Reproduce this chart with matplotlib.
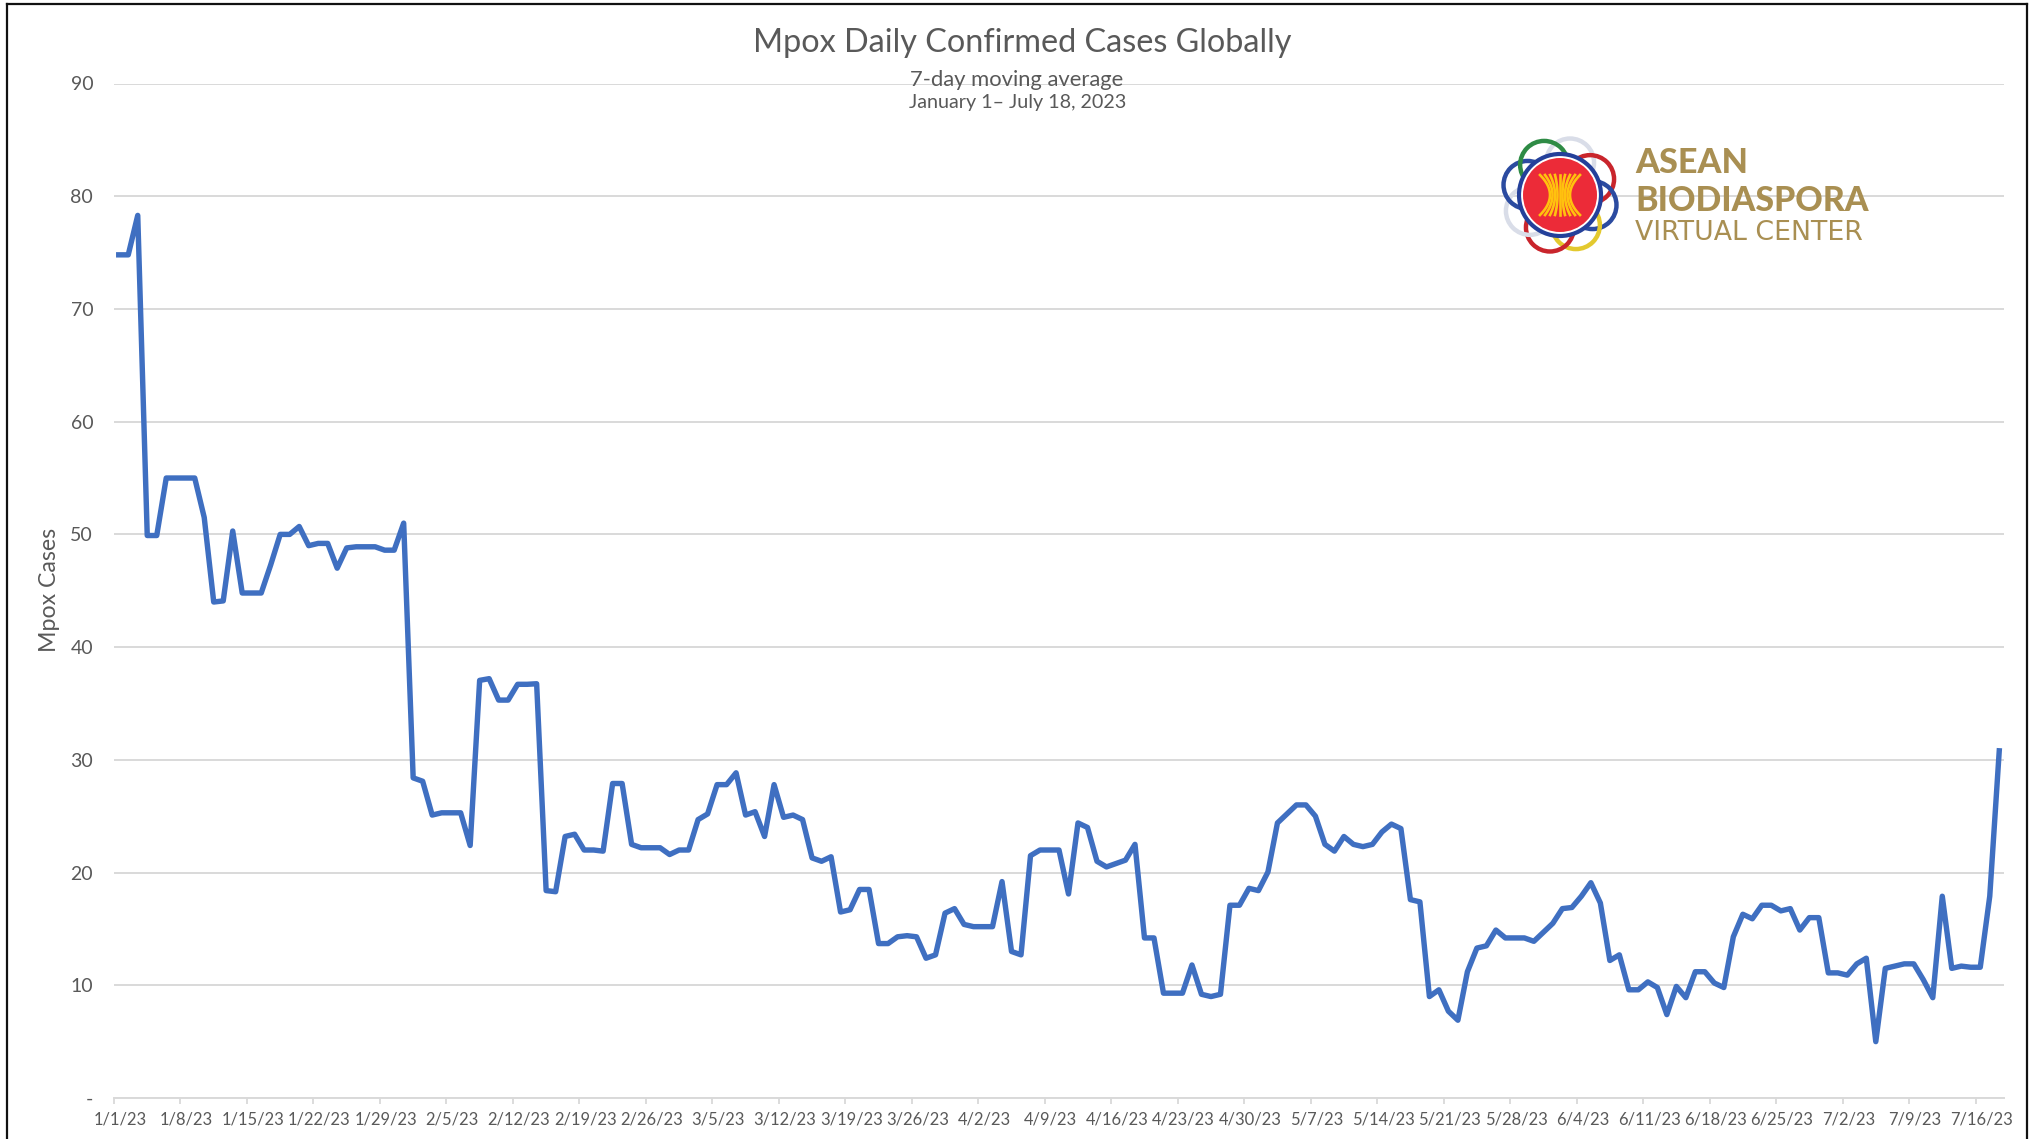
import numpy as np
import pandas as pd
import matplotlib
matplotlib.use("Agg")
import matplotlib.pyplot as plt
from matplotlib.lines import Line2D
from matplotlib.patches import Circle

# 7-day moving average, one value per day from 1/1/23 to 7/18/23
cases = [
    74.8, 74.8, 78.3, 49.9, 49.9, 55.0, 55.0, 55.0, 55.0, 51.5,
    44.0, 44.1, 50.3, 44.8, 44.8, 44.8, 47.3, 50.0, 50.0, 50.7,
    49.0, 49.2, 49.2, 47.0, 48.8, 48.9, 48.9, 48.9, 48.6, 48.6,
    51.0, 28.4, 28.1, 25.1, 25.3, 25.3, 25.3, 22.4, 37.05, 37.2,
    35.3, 35.3, 36.7, 36.7, 36.75, 18.4, 18.3, 23.2, 23.4, 22.0,
    22.0, 21.9, 27.9, 27.9, 22.5, 22.2, 22.2, 22.2, 21.6, 22.0,
    22.0, 24.7, 25.2, 27.8, 27.8, 28.85, 25.1, 25.4, 23.2, 27.8,
    24.9, 25.1, 24.7, 21.3, 21.0, 21.4, 16.5, 16.7, 18.5, 18.5,
    13.7, 13.7, 14.3, 14.4, 14.3, 12.4, 12.7, 16.4, 16.8, 15.4,
    15.2, 15.2, 15.2, 19.2, 13.0, 12.7, 21.5, 22.0, 22.0, 22.0,
    18.1, 24.4, 24.0, 21.0, 20.5, 20.8, 21.1, 22.5, 14.2, 14.2,
    9.3, 9.3, 9.3, 11.8, 9.2, 9.0, 9.2, 17.1, 17.1, 18.6,
    18.4, 20.05, 24.4, 25.2, 26.0, 26.0, 25.0, 22.5, 21.9, 23.2,
    22.5, 22.3, 22.5, 23.6, 24.3, 23.9, 17.6, 17.4, 9.0, 9.6,
    7.7, 6.9, 11.2, 13.3, 13.5, 14.9, 14.2, 14.2, 14.2, 13.9,
    14.7, 15.5, 16.8, 16.9, 17.9, 19.1, 17.3, 12.2, 12.7, 9.6,
    9.6, 10.3, 9.8, 7.4, 9.9, 8.9, 11.2, 11.2, 10.2, 9.8,
    14.3, 16.3, 15.9, 17.1, 17.1, 16.6, 16.8, 14.9, 16.0, 16.0,
    11.1, 11.1, 10.9, 11.9, 12.4, 5.0, 11.5, 11.7, 11.9, 11.9,
    10.5, 8.9, 17.9, 11.5, 11.7, 11.6, 11.6, 17.9, 30.8,
]
dates = pd.date_range("2023-01-01", periods=len(cases))

x_labels = [
    "1/1/23", "1/8/23", "1/15/23", "1/22/23", "1/29/23", "2/5/23", "2/12/23",
    "2/19/23", "2/26/23", "3/5/23", "3/12/23", "3/19/23", "3/26/23", "4/2/23",
    "4/9/23", "4/16/23", "4/23/23", "4/30/23", "5/7/23", "5/14/23", "5/21/23",
    "5/28/23", "6/4/23", "6/11/23", "6/18/23", "6/25/23", "7/2/23", "7/9/23",
    "7/16/23",
]
y_ticks = [0, 10, 20, 30, 40, 50, 60, 70, 80, 90]
y_labels = ["-", "10", "20", "30", "40", "50", "60", "70", "80", "90"]

W, H = 2034, 1139
GREY = "#595959"
GOLD = "#A98F52"
plt.rcParams["font.family"] = ["Lato", "DejaVu Sans"]

fig = plt.figure(figsize=(W / 100, H / 100), dpi=100, facecolor="white")
ax = fig.add_axes([114 / W, 1 - 1098 / H, (2004 - 114) / W, (1098 - 83.5) / H])

ax.plot(dates, cases, color="#3F6FC1", lw=3.9, solid_joinstyle="round", zorder=3)

# category style axis: a tick between the days, the label on the day
week_days = dates[::7]
half_day = pd.Timedelta(hours=12)
ax.set_xlim(dates[0] - half_day, dates[-1] + half_day)
ax.set_ylim(0, 90)
ax.set_xticks(week_days - half_day)
ax.set_xticklabels([])
ax.set_xticks(week_days + pd.Timedelta(hours=3), labels=x_labels, minor=True)
ax.tick_params(axis="x", which="major", length=4, width=1.3, color="#D9D9D9")
ax.tick_params(axis="x", which="minor", length=0, pad=9.5, labelsize=11.9, labelcolor=GREY)
ax.set_yticks(y_ticks, labels=y_labels)
ax.tick_params(axis="y", length=0, pad=15, labelsize=14, labelcolor=GREY)

ax.grid(axis="y", color="#D9D9D9", lw=1.4)
ax.set_axisbelow(True)
for side in ["top", "right", "left"]:
    ax.spines[side].set_visible(False)
ax.spines["bottom"].set_color("#D9D9D9")
ax.spines["bottom"].set_linewidth(1.4)

fig.text(50 / W, 1 - 590 / H, "Mpox Cases", rotation=90, ha="center", va="center",
         fontsize=16.7, color=GREY)
fig.text(1022 / W, 1 - 43 / H, "Mpox Daily Confirmed Cases Globally", ha="center",
         va="center", fontsize=23.3, color=GREY)
fig.text(1017 / W, 1 - 80.5 / H, "7-day moving average", ha="center", va="center",
         fontsize=15.8, color=GREY)
fig.text(1018 / W, 1 - 102.5 / H, "January 1– July 18, 2023", ha="center", va="center",
         fontsize=14.2, color=GREY)

# logo, drawn in pixels around its centre
logo = fig.add_axes([(1560 - 64) / W, 1 - (195 + 64) / H, 128 / W, 128 / H])
logo.set_xlim(-64, 64)
logo.set_ylim(-64, 64)
logo.axis("off")
loop_colors = ["#D9DDE8", "#C9252C", "#2B4BA0", "#E3C92E", "#C9252C",
               "#D9DDE8", "#2B4BA0", "#2E8B45"]
for i, c in enumerate(loop_colors):
    a = np.pi / 2 - i * 2 * np.pi / len(loop_colors) - 0.3
    logo.add_patch(Circle((34 * np.cos(a), 34 * np.sin(a)), 24, fill=False, ec=c, lw=3.2))
logo.add_patch(Circle((0, 0), 41, fc="white", ec="#24409A", lw=3.0, zorder=3))
logo.add_patch(Circle((0, 0), 37, fc="#EC2B38", ec="none", zorder=4))
for u in np.linspace(-1, 1, 9):
    t = np.linspace(-1, 1, 30)
    logo.plot(u * (10 + 10 * t ** 2), 20 * t, color="#FFC20E", lw=1.9, zorder=5)

fig.text(1635 / W, 1 - 163 / H, "ASEAN", ha="left", va="center", fontsize=24.6,
         fontweight="black", color=GOLD)
fig.text(1635 / W, 1 - 201 / H, "BIODIASPORA", ha="left", va="center", fontsize=24.4,
         fontweight="black", color=GOLD)
fig.text(1635 / W, 1 - 233 / H, "VIRTUAL CENTER", ha="left", va="center", fontsize=19.3,
         color=GOLD, family=["DejaVu Sans"])

# black frame of the screenshot, open at the bottom
for xs, ys in [([7, 7], [H, 4]), ([7, 2027], [4, 4]), ([2027, 2027], [4, H])]:
    fig.add_artist(Line2D([v / W for v in xs], [1 - v / H for v in ys], color="#111111", lw=1.6))

fig.savefig("out.png", dpi=100)
